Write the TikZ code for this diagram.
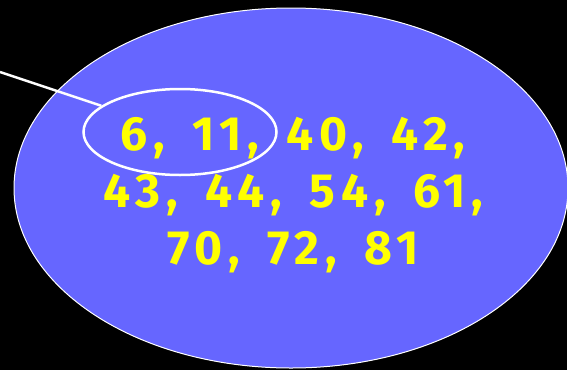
\documentclass[tikz,border=0pt]{standalone}
\usepackage{fontspec}
\setmainfont{Fira Sans}
\newfontfamily\numfont[LetterSpace=12,WordSpace=1.6]{Fira Sans}
\usetikzlibrary{shapes.geometric}
\definecolor{setblue}{HTML}{6666FF}
\definecolor{numyellow}{HTML}{FFFF00}

\begin{document}
\begin{tikzpicture}[x=1pt, y=-1pt,
    bigset/.style={ellipse, draw=white, line width=1pt, fill=setblue,
      minimum width=554pt, minimum height=360pt, inner sep=0pt},
    subset/.style={ellipse, draw=white, line width=2.5pt,
      minimum width=193pt, minimum height=86pt, inner sep=0pt},
    nums/.style={align=center, text=numyellow,
      font=\numfont\fontsize{48}{57}\selectfont\bfseries},
    link/.style={draw=white, line width=2.5pt},
  ]
  %% --- background ---
  \fill[black] (0,0) rectangle (567,370);
  \useasboundingbox (0,0) rectangle (567,370);
  \clip (0,0) rectangle (567,370);

  %% --- set and its elements ---
  \node[bigset] (set)  at (291,188) {};
  \node[nums]   (list) at (293,195)
    {6, 11, 40, 42,\\43, 44, 54, 61,\\70, 72, 81};

  %% --- highlighted part ---
  \node[subset] (sub) at (180,132) {};
  \coordinate (src) at (0,72);
  \draw[link] (src) -- (sub);
\end{tikzpicture}
\end{document}
